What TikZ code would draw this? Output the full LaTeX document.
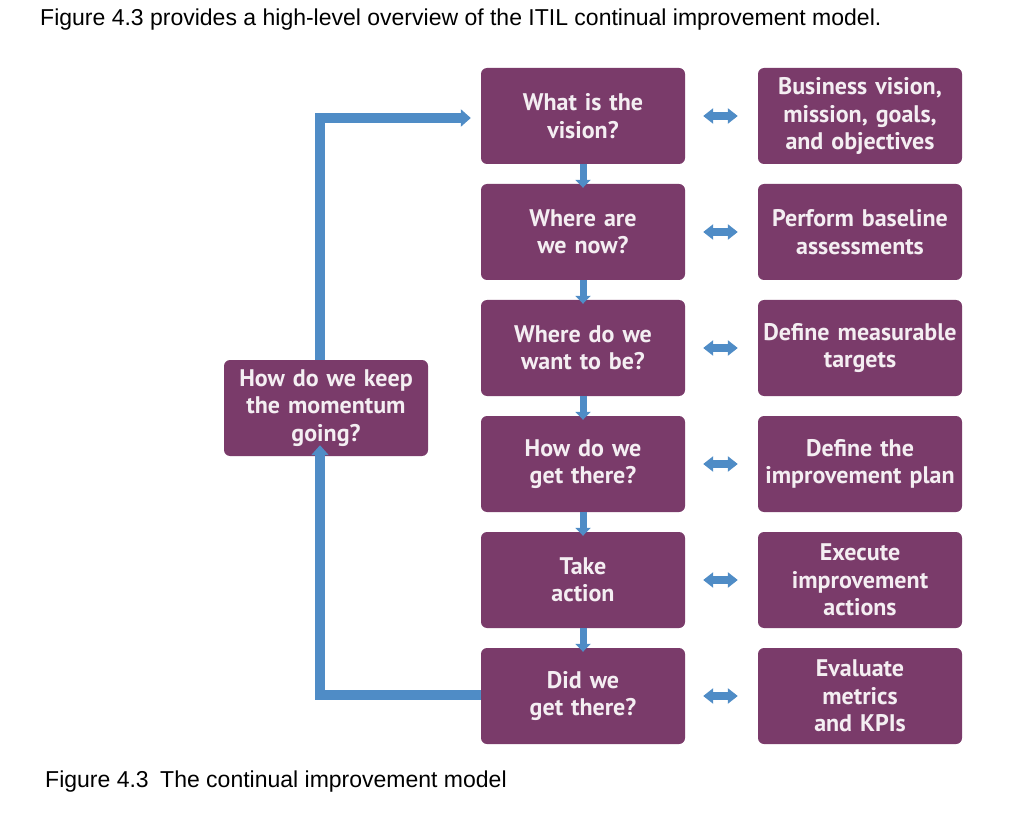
\documentclass[tikz,border=0pt]{standalone}
\usepackage{fontspec}
\setmainfont{Liberation Sans}
\newfontfamily\boxfont{PT Sans}
\usetikzlibrary{arrows.meta}
\definecolor{boxpurple}{HTML}{7A3B6A}
\definecolor{arrowblue}{HTML}{4F8CC6}
\definecolor{boxtext}{HTML}{F4EEF2}
\begin{document}
\begin{tikzpicture}[x=1pt,y=-1pt,
  stepbox/.style={fill=boxpurple,rounded corners=6pt,minimum width=202pt,minimum height=96pt,
    inner sep=0pt,text width=204pt,align=center,text=boxtext,
    font=\boxfont\bfseries\fontsize{24}{27.5}\selectfont},
  loop/.style={draw=arrowblue,line width=10pt,-{Triangle[width=17pt,length=10pt]}},
  down/.style={draw=arrowblue,line width=7pt,-{Triangle[width=15pt,length=8pt]}},
  both/.style={draw=arrowblue,line width=8pt,{Triangle[width=15pt,length=10pt]}-{Triangle[width=15pt,length=10pt]}},
  txt/.style={anchor=base west,inner sep=0pt,font=\fontsize{23}{27}\selectfont}]
\useasboundingbox (0,0) rectangle (1026,821);
\node[txt] (intro) at (40,26) {Figure 4.3 provides a high-level overview of the ITIL continual improvement model.};
\node[txt] (cap) at (45,787) {Figure 4.3\hspace{0.5em}The continual improvement model};

\node[stepbox] (m1) at (583,116) {What is the\\vision?};
\node[stepbox] (m2) at (583,232) {Where are\\we now?};
\node[stepbox] (m3) at (583,348) {Where do we\\want to be?};
\node[stepbox] (m4) at (583,464) {How do we\\get there?};
\node[stepbox] (m5) at (583,580) {Take\\action};
\node[stepbox] (m6) at (583,696) {Did we\\get there?};

\node[stepbox,minimum width=204pt] (r1) at (860,116) {Business vision,\\mission, goals,\\and objectives};
\node[stepbox,minimum width=204pt] (r2) at (860,232) {Perform baseline\\assessments};
\node[stepbox,minimum width=204pt] (r3) at (860,348) {Define measurable\\targets};
\node[stepbox,minimum width=204pt] (r4) at (860,464) {Define the\\improvement plan};
\node[stepbox,minimum width=204pt] (r5) at (860,580) {Execute\\improvement\\actions};
\node[stepbox,minimum width=204pt] (r6) at (860,696) {Evaluate\\metrics\\and KPIs};

\node[stepbox,minimum width=204pt] (l) at (326,408) {How do we keep\\the momentum\\going?};

\foreach \a/\b in {m1/m2,m2/m3,m3/m4,m4/m5,m5/m6}{
  \draw[down] (\a.south) -- ([yshift=-4pt]\b.north);
}
\foreach \i in {1,...,6}{
  \draw[both] ([xshift=18pt]m\i.east) -- ([xshift=-20pt]r\i.west);
}
\coordinate (tl) at (320,118);
\coordinate (bl) at (320,695);
\draw[loop] (l.north -| tl) -- (tl) -- ([xshift=-10pt]m1.west |- tl);
\draw[loop] (m6.west |- bl) -- (bl) -- ([yshift=11pt]l.south -| bl);
\end{tikzpicture}
\end{document}
